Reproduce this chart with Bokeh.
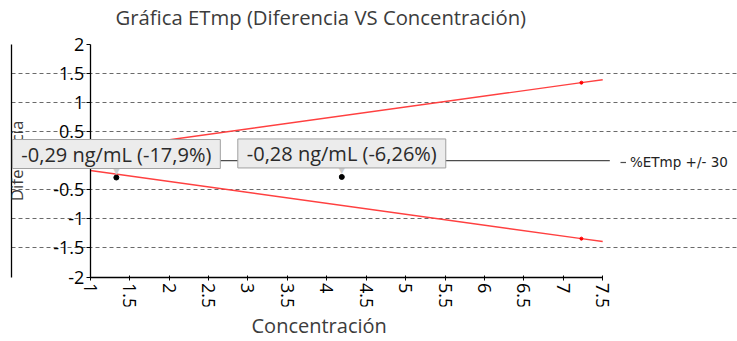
from bokeh.plotting import figure
from bokeh.models import (Range1d, LinearAxis, FixedTicker, Label, Title,
                          NumeralTickFormatter)
from bokeh.core.properties import value
from bokeh.embed import file_html
from bokeh.resources import INLINE

# ---- data ----
conc = [1.33, 4.19]
diff = [-0.29, -0.28]
point_labels = ["-0,29 ng/mL (-17,9%)", "-0,28 ng/mL (-6,26%)"]
limit_x = [1.0, 7.23, 7.5]
limit_upper = [0.17, 1.34, 1.39]
limit_lower = [-0.17, -1.34, -1.39]
limit_marker_x = [7.23]
limit_marker_upper = [1.34]
limit_marker_lower = [-1.34]
x_ticks = [1, 1.5, 2, 2.5, 3, 3.5, 4, 4.5, 5, 5.5, 6, 6.5, 7, 7.5]
y_ticks = [-2, -1.5, -1, -0.5, 0, 0.5, 1, 1.5, 2]
grid_y = [-1.5, -1, -0.5, 0.5, 1, 1.5]
zero_line_x = [1, 7.59]
zero_line_y = [0, 0]
legend_text = "%ETmp +/- 30"

FONT = "Open Sans"
TXT = "#3c3c3c"

p = figure(width=737, height=341, output_backend="svg", toolbar_location=None,
           x_range=Range1d(0, 9.21), y_range=Range1d(-2.506, 2.219),
           min_border_left=11, min_border_right=0, min_border_top=30,
           min_border_bottom=31, outline_line_color=None,
           background_fill_color="white", border_fill_color="white")

# title
p.add_layout(Title(text="Gráfica ETmp (Diferencia VS Concentración)", align="left",
                   offset=104, text_font=FONT, text_font_size="20.3px",
                   text_font_style="normal", text_color=TXT, standoff=1), "above")

# plain left line (frame edge axis)
lax = p.yaxis[0]
lax.bounds = (-2, 2)
lax.ticker = FixedTicker(ticks=[])
lax.major_tick_out = 0
lax.major_tick_in = 0
lax.minor_tick_out = 0
lax.minor_tick_in = 0
lax.major_label_text_font_size = "0px"
lax.axis_line_color = "black"
lax.axis_line_width = 1.3

# main y axis at x = 1
yax = LinearAxis(fixed_location=1, bounds=(-2, 2), ticker=FixedTicker(ticks=y_ticks),
                 formatter=NumeralTickFormatter(format="0.[0]"))
yax.axis_line_color = "black"
yax.axis_line_width = 1.3
yax.major_tick_line_color = "black"
yax.major_tick_in = 0
yax.major_tick_out = 4
yax.minor_tick_line_color = None
yax.major_label_standoff = 2
yax.major_label_text_font = FONT
yax.major_label_text_font_size = "18px"
yax.major_label_text_color = "#000000"
yax.axis_label = "Diferencia"
yax.axis_label_text_font = FONT
yax.axis_label_text_font_size = "17px"
yax.axis_label_text_font_style = "normal"
yax.axis_label_text_color = TXT
yax.axis_label_standoff = 22
p.add_layout(yax, "left")

# x axis at y = -2
xax = p.xaxis[0]
xax.fixed_location = -2
xax.bounds = (1, 7.5)
xax.ticker = FixedTicker(ticks=x_ticks)
xax.formatter = NumeralTickFormatter(format="0.[0]")
xax.axis_line_color = "black"
xax.axis_line_width = 1.3
xax.major_tick_line_color = "black"
xax.minor_tick_line_color = None
xax.major_tick_in = 2
xax.major_tick_out = 3
xax.major_label_standoff = 3
xax.major_label_orientation = "vertical"
xax.major_label_text_font = FONT
xax.major_label_text_font_size = "18px"
xax.major_label_text_color = "#000000"

# x axis title
p.add_layout(Title(text="Concentración", align="left", offset=240,
                   text_font=FONT, text_font_size="20px", text_font_style="normal",
                   text_color=TXT, standoff=6), "below")

# grid
p.xgrid.visible = False
p.ygrid.ticker = FixedTicker(ticks=grid_y)
p.ygrid.bounds = (1, 7.5)
p.ygrid.grid_line_color = "#6a6a6a"
p.ygrid.grid_line_dash = "4 3"
p.ygrid.grid_line_width = 1

# zero line
p.line(zero_line_x, zero_line_y, line_color="#4d4d4d", line_width=1.2,
       legend_label=legend_text)

# limit lines
p.line(limit_x, limit_upper, line_color="#ff4040", line_width=1.4)
p.line(limit_x, limit_lower, line_color="#ff4040", line_width=1.4)
p.scatter(limit_marker_x, limit_marker_upper, size=3, color="red")
p.scatter(limit_marker_x, limit_marker_lower, size=3, color="red")

# data points
p.scatter(conc, diff, size=5, color="black")
p.text(conc, diff, text=["▼"] * len(conc), text_font=value("DejaVu Sans"),
       text_font_size="9px", text_color="#cfcfcf", text_align="center",
       text_baseline="middle", y_offset=-7)

for cx, dy, lab in zip(conc, diff, point_labels):
    p.add_layout(Label(x=cx, y=dy, text=lab, text_align="center", text_baseline="bottom",
                       y_offset=9, text_font=FONT, text_font_size="20px",
                       text_color="#2a2a2a", background_fill_color="#ececec",
                       border_line_color="#a0a0a0", border_line_width=1,
                       padding={"left": 9, "right": 9, "top": 1, "bottom": 1}))

leg = p.legend[0]
leg.location = (609, 136)
leg.border_line_color = None
leg.background_fill_alpha = 0
leg.padding = 0
leg.margin = 0
leg.spacing = 0
leg.glyph_width = 6
leg.glyph_height = 14
leg.label_standoff = 4
leg.label_text_font = "DejaVu Sans"
leg.label_text_font_size = "13.5px"
leg.label_text_color = "#222222"
leg.label_height = 14

open("out.html", "w").write(file_html(p, INLINE))
